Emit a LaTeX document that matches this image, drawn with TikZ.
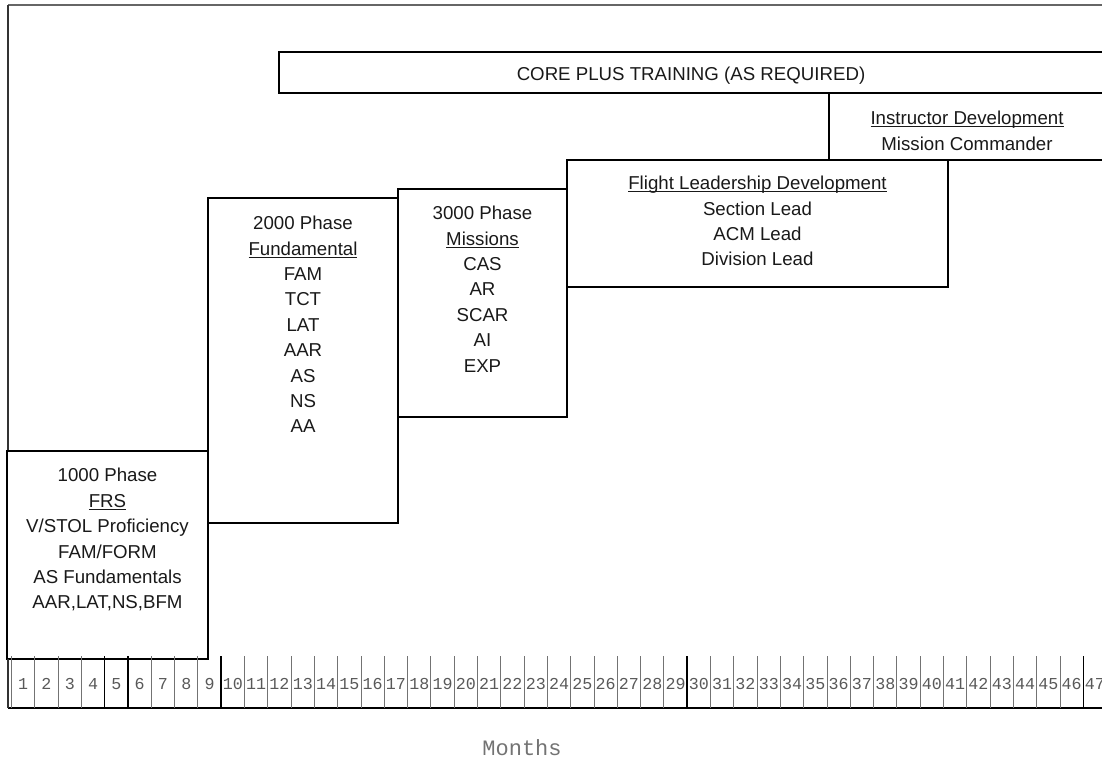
\documentclass[tikz,border=0pt]{standalone}
\usepackage{fontspec}
\setmainfont{Liberation Sans}
\newfontfamily\monofont{Liberation Mono}
\newcommand\ulin[1]{\setbox0=\hbox{#1}\rlap{\rule[-1.6pt]{\wd0}{0.6pt}}\box0}
\begin{document}
\begin{tikzpicture}[x=0.75pt,y=-0.75pt,
  boxline/.style={draw=black, line width=1.2pt},
  boxtext/.style={align=center, anchor=north, inner sep=0pt, text=black!90, font=\fontsize{14}{19.05}\selectfont},
  monthtick/.style={draw=black!55, line width=0.7pt},
  darktick/.style={draw=black, line width=1.1pt},
  monthnum/.style={font=\monofont\fontsize{12.5}{14}\selectfont, text=black!65, inner sep=0pt},
  monthlabel/.style={font=\monofont\fontsize{16.5}{18}\selectfont, text=black!55, inner sep=0pt}]
\useasboundingbox (0,0) rectangle (1102,760);
\clip (0,0) rectangle (1102,760);
% outer frame
\draw[line width=1pt, black!60] (8,5) -- (1104,5);
\draw[line width=1.2pt, black!80] (8,5) -- (8,451);
% boxes
\draw[boxline] (7,451) rectangle (208,659);
\draw[boxline] (208,198) rectangle (398,523);
\draw[boxline] (398,189) rectangle (567,417);
\draw[boxline] (567,160) rectangle (948,287);
\draw[boxline] (829,93) rectangle (1105,160);
\draw[boxline] (279,52) rectangle (1105,93);
% texts
\node[boxtext] (p1000) at (107.5,468) {1000 Phase\\\ulin{FRS}\\V/STOL Proficiency\\FAM/FORM\\AS Fundamentals\\AAR,LAT,NS,BFM};
\node[boxtext] (p2000) at (303,216) {2000 Phase\\\ulin{Fundamental}\\FAM\\TCT\\LAT\\AAR\\AS\\NS\\AA};
\node[boxtext] (p3000) at (482.5,206) {3000 Phase\\\ulin{Missions}\\CAS\\AR\\SCAR\\AI\\EXP};
\node[boxtext] (flight) at (757.5,176) {\ulin{Flight Leadership Development}\\Section Lead\\ACM Lead\\Division Lead};
\node[boxtext] (instr) at (967,111) {\ulin{Instructor Development}\\Mission Commander};
\node[boxtext, anchor=base] (core) at (691,80.7) {CORE PLUS TRAINING (AS REQUIRED)};
% month scale
\draw[line width=1.2pt] (8,708) -- (1104,708);
\draw[line width=1pt, black!80] (8,659) -- (8,708);
\foreach \k in {0,...,46} {
  \draw[monthtick] ({11.5+23.3*\k},656) -- ({11.5+23.3*\k},708);
}
\foreach \k in {4,5,9,29,46} {
  \draw[darktick] ({11.5+23.3*\k},656) -- ({11.5+23.3*\k},708);
}
\foreach \k in {1,...,47} {
  \node[monthnum] (m\k) at ({11.5+23.3*(\k-0.5)},684) {\k};
}
\node[monthlabel] (months) at (522,748) {Months};
\end{tikzpicture}
\end{document}
